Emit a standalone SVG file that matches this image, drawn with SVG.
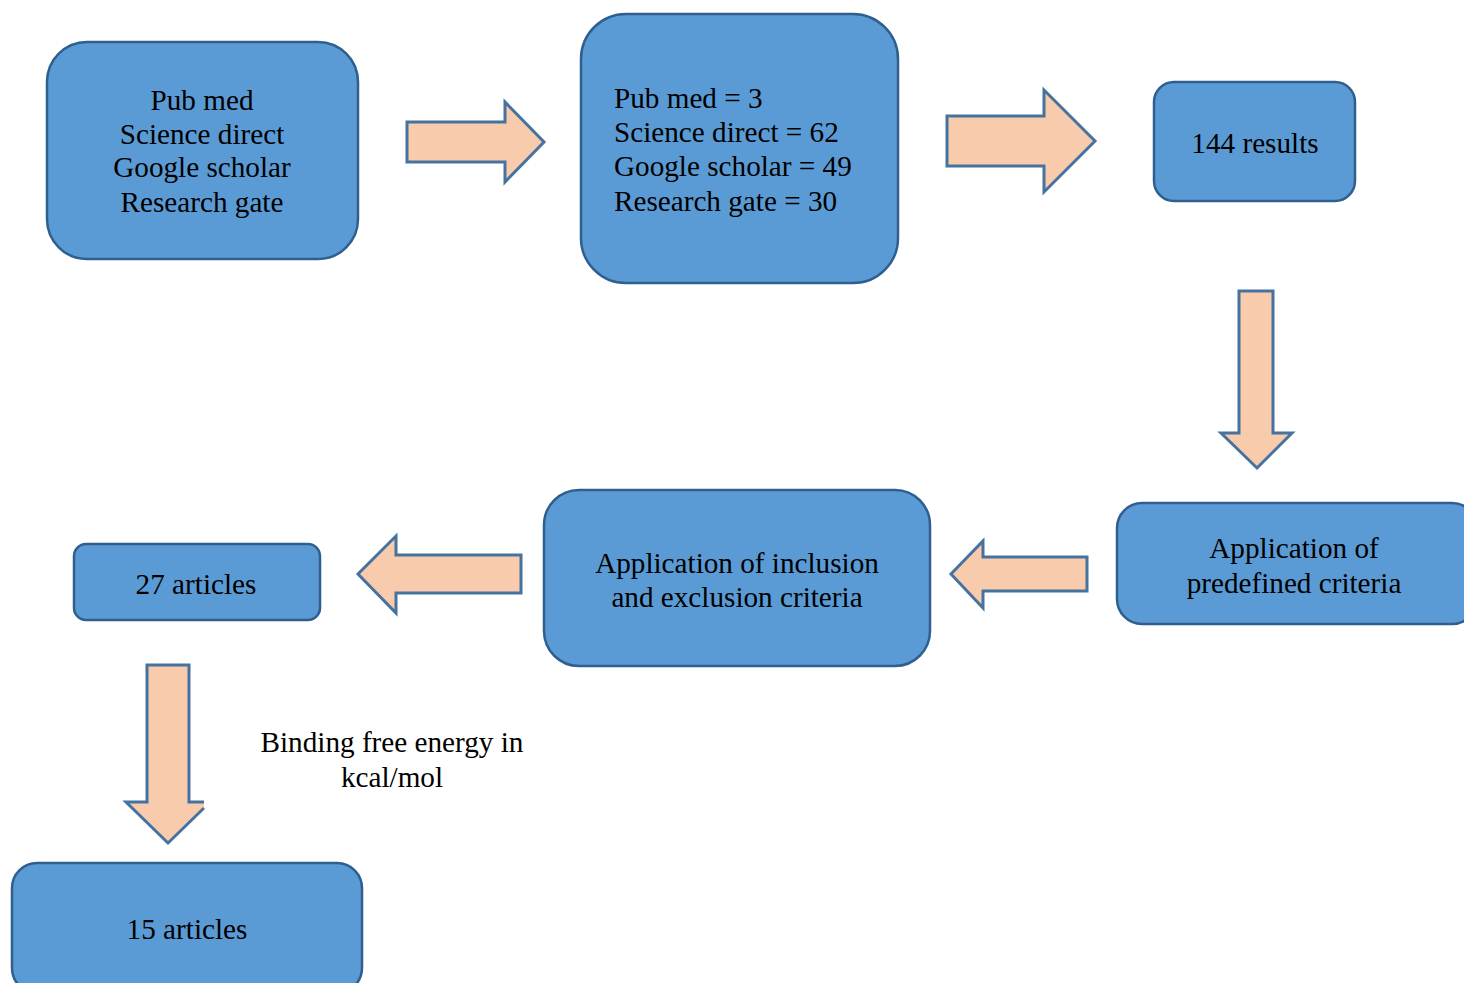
<svg xmlns="http://www.w3.org/2000/svg" width="1464" height="983" viewBox="0 0 1464 983">
<style>
.box{fill:#5b9bd5;stroke:#2f5f8f;stroke-width:2.5}
.arr{fill:#f8cbad;stroke:#4672a0;stroke-width:3;stroke-linejoin:miter}
text{font-family:"Liberation Serif","Times New Roman",serif;font-size:29.2px;fill:#000}
.c{text-anchor:middle}
</style>
<rect width="1464" height="983" fill="#fff"/>
<g id="connectors">
<polygon class="arr" points="407,122 505,122 505,102 544,142 505,182 505,162 407,162"/>
<polygon class="arr" points="947,116 1044,116 1044,90 1095,141 1044,192 1044,166 947,166"/>
<polygon class="arr" points="1239,291 1273,291 1273,433 1292,433 1257,468 1221,433 1239,433"/>
<polygon class="arr" points="1087,557 983,557 983,541 951,574 983,608 983,591 1087,591"/>
<polygon class="arr" points="521,555 396,555 396,536 358,574 396,613 396,593 521,593"/>
<polygon fill="#f8cbad" points="147,665 189,665 189,802 204,802 204,808 168,843 126,802 147,802"/>
<path fill="none" stroke="#4672a0" stroke-width="3" d="M204,802 H189 V665 H147 V802 H126 L168,843 L204,808"/>
</g>
<g id="n1"><rect class="box" x="47" y="42" width="311" height="217" rx="40"/>
<text class="c" x="202" y="110">Pub med</text>
<text class="c" x="202" y="144">Science direct</text>
<text class="c" x="202" y="177">Google scholar</text>
<text class="c" x="202" y="212">Research gate</text></g>
<g id="n2"><rect class="box" x="581" y="14" width="317" height="269" rx="45"/>
<text x="614" y="108">Pub med = 3</text>
<text x="614" y="142">Science direct = 62</text>
<text x="614" y="176">Google scholar = 49</text>
<text x="614" y="211">Research gate = 30</text></g>
<g id="n3"><rect class="box" x="1154" y="82" width="201" height="119" rx="20"/>
<text class="c" x="1255" y="153">144 results</text></g>
<g id="n4"><rect class="box" x="1117" y="503" width="360" height="121" rx="25"/>
<text class="c" x="1294" y="558">Application of</text>
<text class="c" x="1294" y="593">predefined criteria</text></g>
<g id="n5"><rect class="box" x="544" y="490" width="386" height="176" rx="35"/>
<text class="c" x="737" y="573">Application of inclusion</text>
<text class="c" x="737" y="607">and exclusion criteria</text></g>
<g id="n6"><rect class="box" x="74" y="544" width="246" height="76" rx="12"/>
<text class="c" x="196" y="594">27 articles</text></g>
<g id="n7"><rect class="box" x="12" y="863" width="350" height="130" rx="25"/>
<text class="c" x="187" y="939">15 articles</text></g>
<g id="label">
<text class="c" x="392" y="752">Binding free energy in</text>
<text class="c" x="392" y="787">kcal/mol</text></g>
</svg>
